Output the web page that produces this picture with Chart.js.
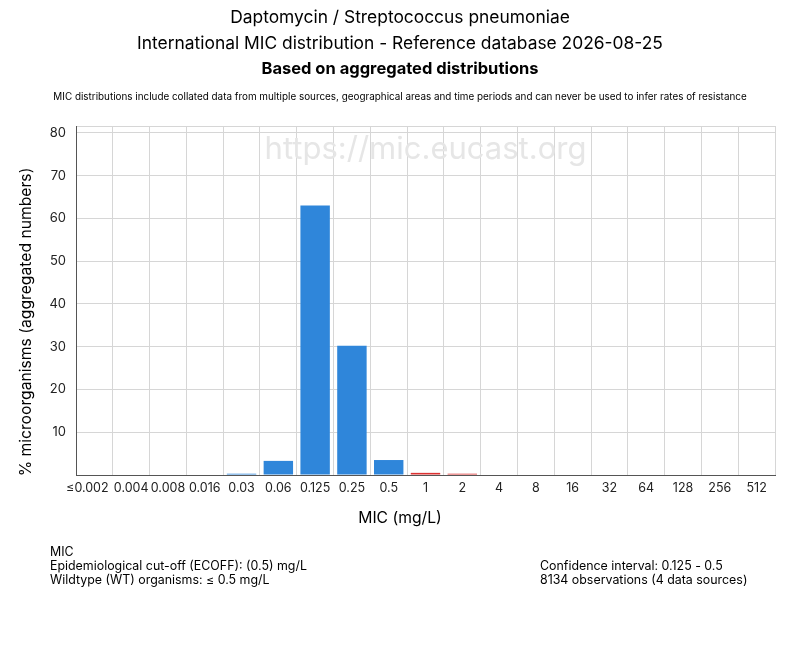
<!DOCTYPE html>
<html>
<head>
<meta charset="utf-8">
<script src="https://cdn.jsdelivr.net/npm/chart.js@4.4.0/dist/chart.umd.min.js"></script>
<style>
  html, body { margin: 0; padding: 0; background: #fff; }
  #wrap { width: 800px; height: 650px; }
</style>
</head>
<body>
<div id="wrap"><canvas id="micChart" width="800" height="650"></canvas></div>
<script>
// MIC classes (mg/L) and % of isolates
const micLabels = ['≤0.002', '0.004', '0.008', '0.016', '0.03', '0.06', '0.125', '0.25', '0.5',
                   '1', '2', '4', '8', '16', '32', '64', '128', '256', '512'];
const wtValues  = [0, 0, 0, 0, 0.3, 3.3, 63.0, 30.2, 3.5, null, null, null, null, null, null, null, null, null, null];
const nonWtValues = [null, null, null, null, null, null, null, null, null, 0.5, 0.3, 0, 0, 0, 0, 0, 0, 0, 0];
const yTicks = [0, 10, 20, 30, 40, 50, 60, 70, 80];
const yMax = 81.6;

const titleLines = [
  'Daptomycin / Streptococcus pneumoniae',
  'International MIC distribution - Reference database 2026-08-25'
];
const boldLine = 'Based on aggregated distributions';
const noteLine = 'MIC distributions include collated data from multiple sources, geographical areas and time periods and can never be used to infer rates of resistance';
const footLeft = ['MIC', 'Epidemiological cut-off (ECOFF): (0.5) mg/L', 'Wildtype (WT) organisms: ≤ 0.5 mg/L'];
const footRight = ['Confidence interval: 0.125 - 0.5', '8134 observations (4 data sources)'];

const font = 'Inter, "Liberation Sans", Arial, sans-serif';

const textPlugin = {
  id: 'texts',
  beforeDatasetsDraw(chart) {
    const { ctx, chartArea } = chart;
    ctx.save();
    ctx.font = '31px ' + font;
    ctx.fillStyle = '#e6e6e6';
    ctx.textAlign = 'center';
    ctx.textBaseline = 'middle';
    ctx.fillText('https://mic.eucast.org', (chartArea.left + chartArea.right) / 2, 150);
    ctx.restore();
  },
  afterDraw(chart) {
    const { ctx } = chart;
    ctx.save();
    ctx.fillStyle = '#000';
    ctx.textAlign = 'center';
    ctx.textBaseline = 'middle';
    ctx.font = '17.4px ' + font;
    ctx.fillText(titleLines[0], 400, 18);
    ctx.fillText(titleLines[1], 400, 44);
    ctx.font = 'bold 16.5px ' + font;
    ctx.fillText(boldLine, 400, 69);
    ctx.font = '9.9px ' + font;
    ctx.fillText(noteLine, 400, 97);

    ctx.font = '15.7px ' + font;
    ctx.fillText('MIC (mg/L)', 400, 518);
    ctx.save();
    ctx.translate(26, 322);
    ctx.rotate(-Math.PI / 2);
    ctx.fillText('% microorganisms (aggregated numbers)', 0, 0);
    ctx.restore();

    ctx.textAlign = 'left';
    ctx.font = '12.4px ' + font;
    footLeft.forEach((t, i) => ctx.fillText(t, 50, 552 + i * 14));
    footRight.forEach((t, i) => ctx.fillText(t, 540, 566 + i * 14));
    ctx.restore();
  }
};

new Chart(document.getElementById('micChart'), {
  type: 'bar',
  data: {
    labels: micLabels,
    datasets: [
      { label: 'WT', data: wtValues, backgroundColor: '#2f86da', barPercentage: 0.8, categoryPercentage: 1, grouped: false },
      { label: 'non-WT', data: nonWtValues, backgroundColor: '#dc3232', barPercentage: 0.8, categoryPercentage: 1, grouped: false }
    ]
  },
  options: {
    responsive: false,
    animation: false,
    layout: { padding: { left: 0, top: 126, right: 25, bottom: 145 } },
    plugins: { legend: { display: false }, tooltip: { enabled: false } },
    scales: {
      x: {
        afterFit(scale) { scale.height = 30; },
        grid: { color: '#d6d6d6', offset: true, drawTicks: false },
        border: { color: '#555' },
        ticks: {
          color: '#222',
          font: { size: 12.5, family: font },
          padding: 6,
          maxRotation: 0,
          autoSkip: false,
          // first label sits a little left of its slot in the original
          callback(v, i) { const l = this.getLabelForValue(v); return i === 0 ? l + '    ' : l; }
        }
      },
      y: {
        min: 0,
        max: yMax,
        afterFit(scale) { scale.width = 76; },
        afterBuildTicks(scale) {
          scale.ticks = yTicks.concat([yMax]).map(v => ({ value: v }));
        },
        grid: { color: '#d6d6d6', drawTicks: false },
        border: { color: '#555' },
        ticks: {
          color: '#222',
          padding: 10,
          font: { size: 13, family: font },
          callback: v => (v === 0 || v === yMax) ? '' : v
        }
      }
    }
  },
  plugins: [textPlugin]
});
</script>
</body>
</html>
